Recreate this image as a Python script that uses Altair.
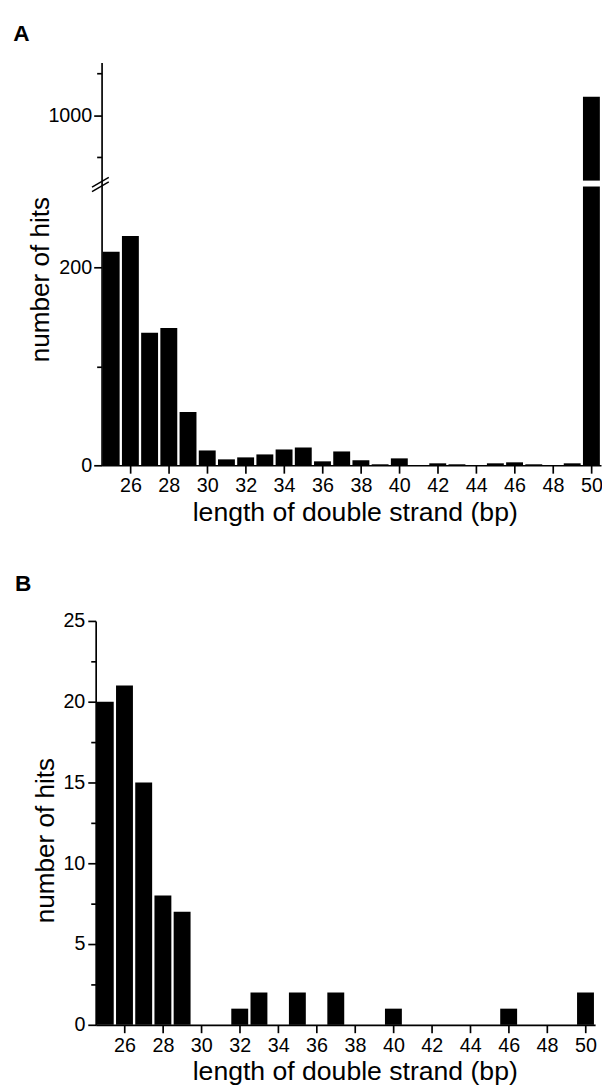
import altair as alt
import pandas as pd

# ---------------- data ----------------
lengths = list(range(25, 51))
hits_a = [216, 232, 134, 139, 54, 15, 6, 8, 11, 16, 18, 4, 14, 5, 1, 7, 0, 2, 1, 0, 2, 3, 1, 0, 2, 1110]
hits_b = [20, 21, 15, 8, 7, 0, 0, 1, 2, 0, 2, 0, 2, 0, 0, 1, 0, 0, 0, 0, 0, 1, 0, 0, 0, 2]
x_ticks = list(range(26, 51, 2))
a_major = [0, 200, 1000]
a_minor = [100, 750, 1250]
b_major = [0, 5, 10, 15, 20, 25]
b_minor = [2.5, 7.5, 12.5, 17.5, 22.5]
x_title = "length of double strand (bp)"
y_title = "number of hits"
panel_labels = ["A", "B"]

# ---------------- style ----------------
FONT = "Liberation Sans"
HALF = 0.44            # half bar width in x units
GAP_LO, GAP_HI = 282, 609   # broken-axis gap (data units)
A_TOP = 1315

df_a = pd.DataFrame({"len": lengths, "hits": hits_a})
df_b = pd.DataFrame({"len": lengths, "hits": hits_b})
one = pd.DataFrame({"k": [0]})


def x_enc(rng, title_y):
    return alt.X(
        "x0:Q",
        scale=alt.Scale(domain=[24.5, 50.5], nice=False, zero=False, range=rng),
        axis=alt.Axis(
            values=x_ticks, format="d", title=x_title,
            labelFont=FONT, labelFontSize=20, labelColor="black",
            labelBaseline="alphabetic", labelPadding=19, labelOverlap=False,
            labelFlush=False,
            tickSize=8, tickWidth=1.7, tickColor="black",
            domainColor="black", domainWidth=1.7, grid=False,
            titleFont=FONT, titleFontSize=27, titleFontWeight="normal",
            titleColor="black", titleX=257, titleY=title_y,
            titleBaseline="alphabetic", titleAlign="center",
        ),
    )


def label_layer(txt, dx, dy):
    return alt.Chart(one).mark_text(
        text=txt, font=FONT, fontSize=23, fontWeight="bold",
        align="left", baseline="top", color="black",
    ).encode(x=alt.value(dx), y=alt.value(dy))


# ---------------- panel A ----------------
a_minor_list = ",".join(str(v) for v in a_minor)
ya = alt.Y(
    "hits:Q",
    scale=alt.Scale(domain=[0, GAP_LO, GAP_HI, A_TOP], range=[409, 126, 120, 0],
                    nice=False, zero=False),
    axis=alt.Axis(
        values=a_major + a_minor, format="d", title=y_title,
        labelExpr=f"indexof([{a_minor_list}], datum.value) >= 0 ? '' : datum.label",
        labelFont=FONT, labelFontSize=20, labelColor="black",
        labelPadding=2, labelOverlap=False, labelFlush=False,
        tickSize={"condition": {"test": f"indexof([{a_minor_list}], datum.value) >= 0", "value": 5}, "value": 8},
        tickWidth=1.7, tickColor="black",
        domainColor="black", domainWidth=1.7, grid=False,
        titleFont=FONT, titleFontSize=26.5, titleFontWeight="normal",
        titleColor="black", titleX=-54, titleY=220, titleAngle=-90,
        titleBaseline="alphabetic", titleAlign="center",
    ),
)

bars_a = (
    alt.Chart(df_a)
    .transform_filter("datum.hits > 0")
    .transform_calculate(x0=f"datum.len - {HALF}", x1=f"datum.len + {HALF}")
    .mark_bar(color="black")
    .encode(x=x_enc([0, 507], 56.5), x2="x1:Q", y=ya, y2=alt.datum(0))
)

gap_a = alt.Chart(one).mark_rect(color="white").encode(
    x=alt.datum(50 - 0.5), x2=alt.datum(50 + 0.5),
    y=alt.datum(GAP_HI), y2=alt.datum(GAP_LO),
)

slash1 = alt.Chart(one).mark_rule(color="black", strokeWidth=1.5).encode(
    x=alt.value(-9.7), x2=alt.value(7.3), y=alt.value(126.7), y2=alt.value(116.7)
)
slash2 = alt.Chart(one).mark_rule(color="black", strokeWidth=1.5).encode(
    x=alt.value(-9.7), x2=alt.value(7.3), y=alt.value(131.2), y2=alt.value(121.2)
)

panel_a = alt.layer(
    bars_a, gap_a, slash1, slash2, label_layer(panel_labels[0], -89.7, -40)
).properties(width=507, height=409)

# ---------------- panel B ----------------
yb = alt.Y(
    "hits:Q",
    scale=alt.Scale(domain=[0, 25], nice=False, zero=False),
    axis=alt.Axis(
        values=b_major + b_minor, format="d", title=y_title, offset=6,
        labelExpr="datum.value % 5 == 0 ? datum.label : ''",
        labelFont=FONT, labelFontSize=20, labelColor="black",
        labelPadding=3, labelOverlap=False, labelFlush=False,
        tickSize={"condition": {"test": "datum.value % 5 != 0", "value": 5}, "value": 8},
        tickWidth=1.7, tickColor="black",
        domainColor="black", domainWidth=1.7, grid=False,
        titleFont=FONT, titleFontSize=26.5, titleFontWeight="normal",
        titleColor="black", titleX=-42.7, titleY=222.5, titleAngle=-90,
        titleBaseline="alphabetic", titleAlign="center",
    ),
)

bars_b = (
    alt.Chart(df_b)
    .transform_filter("datum.hits > 0")
    .transform_calculate(x0=f"datum.len - {HALF}", x1=f"datum.len + {HALF}")
    .mark_bar(color="black")
    .encode(x=x_enc([-6, 501], 55.5), x2="x1:Q", y=yb, y2=alt.datum(0))
)

panel_b = alt.layer(
    bars_b, label_layer(panel_labels[1], -87.9, -48.4)
).properties(width=501, height=410)

chart = (
    alt.vconcat(panel_a, panel_b, spacing=158, bounds="flush")
    .properties(padding={"left": 5, "top": 7, "right": -1, "bottom": 0})
    .configure_view(stroke=None)
)

chart.save("out.html", embed_options={"renderer": "svg", "actions": False})
